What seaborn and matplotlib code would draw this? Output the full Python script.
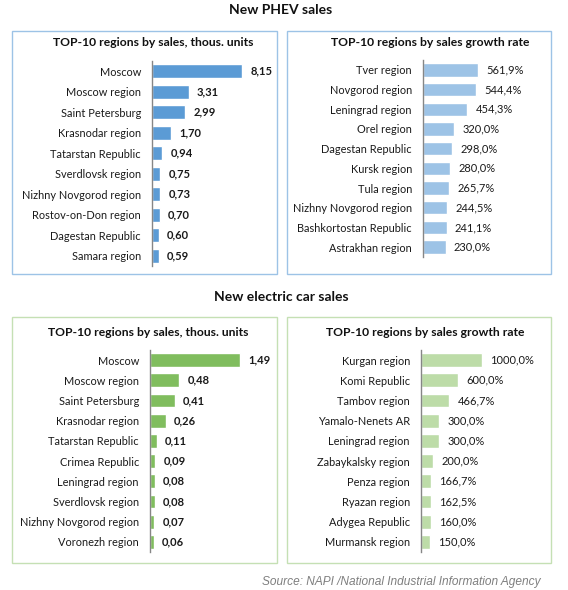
import matplotlib
matplotlib.use("Agg")
import matplotlib.pyplot as plt
import seaborn as sns
import pandas as pd
from matplotlib.patches import Rectangle

sns.set_theme(style="white")
plt.rcParams['font.family'] = ['Lato', 'DejaVu Sans']

# ---------------- data ----------------
phev_sales_regions = ["Moscow", "Moscow region", "Saint Petersburg", "Krasnodar region",
                      "Tatarstan Republic", "Sverdlovsk region", "Nizhny Novgorod region",
                      "Rostov-on-Don region", "Dagestan Republic", "Samara region"]
phev_sales_values = [8.15, 3.31, 2.99, 1.70, 0.94, 0.75, 0.73, 0.70, 0.60, 0.59]

phev_growth_regions = ["Tver region", "Novgorod region", "Leningrad region", "Orel region",
                       "Dagestan Republic", "Kursk region", "Tula region",
                       "Nizhny Novgorod region", "Bashkortostan Republic", "Astrakhan region"]
phev_growth_values = [561.9, 544.4, 454.3, 320.0, 298.0, 280.0, 265.7, 244.5, 241.1, 230.0]

ev_sales_regions = ["Moscow", "Moscow region", "Saint Petersburg", "Krasnodar region",
                    "Tatarstan Republic", "Crimea Republic", "Leningrad region",
                    "Sverdlovsk region", "Nizhny Novgorod region", "Voronezh region"]
ev_sales_values = [1.49, 0.48, 0.41, 0.26, 0.11, 0.09, 0.08, 0.08, 0.07, 0.06]

ev_growth_regions = ["Kurgan region", "Komi Republic", "Tambov region", "Yamalo-Nenets AR",
                     "Leningrad region", "Zabaykalsky region", "Penza region",
                     "Ryazan region", "Adygea Republic", "Murmansk region"]
ev_growth_values = [1000.0, 600.0, 466.7, 300.0, 300.0, 200.0, 166.7, 162.5, 160.0, 150.0]

section_titles = ["New PHEV sales", "New electric car sales"]
panel_title_sales = "TOP-10 regions by sales, thous. units"
panel_title_growth = "TOP-10 regions by sales growth rate"
source_text = "Source: NAPI /National Industrial Information Agency"

# ---------------- layout ----------------
W, H = 568, 590
fig = plt.figure(figsize=(W / 100, H / 100), dpi=100)
fig.patch.set_facecolor("white")


def fx(px):
    return px / W


def fy(py):
    return 1 - py / H


def box(x0, y0, x1, y1, color):
    fig.patches.append(Rectangle((fx(x0), fy(y1)), fx(x1) - fx(x0), fy(y0) - fy(y1),
                                 transform=fig.transFigure, fill=False,
                                 edgecolor=color, linewidth=1.0))


def panel(rect_px, regions, values, color, xmax, fmt, bold):
    x0, y0, x1, y1 = rect_px
    ax = fig.add_axes([fx(x0), fy(y1), fx(x1) - fx(x0), fy(y0) - fy(y1)])
    df = pd.DataFrame({"region": regions, "value": values})
    sns.barplot(data=df, x="value", y="region", orient="h", color=color,
                saturation=1, width=0.68, ax=ax)
    ax.set_xlim(0, xmax)
    ax.set_ylim(len(regions) - 0.5, -0.5)
    ax.set_xlabel("")
    ax.set_ylabel("")
    ax.set_xticks([])
    for s in ["top", "right", "bottom"]:
        ax.spines[s].set_visible(False)
    ax.spines["left"].set_color("#868686")
    ax.spines["left"].set_linewidth(1.0)
    ax.set_facecolor("none")
    ax.tick_params(axis="y", which="major", length=0, pad=8, labelsize=7.9,
                   labelcolor="#1a1a1a")
    ax.set_yticks([i - 0.5 for i in range(len(regions) + 1)], minor=True)
    ax.tick_params(axis="y", which="minor", length=3.5, width=1.0, color="#868686",
                   direction="out")
    labels = [fmt(v) for v in values]
    ax.bar_label(ax.containers[0], labels=labels, padding=6, fontsize=8.0,
                 fontweight="bold" if bold else "normal", color="#1a1a1a")
    return ax


fmt_sales = lambda v: f"{v:.2f}".replace(".", ",")
fmt_growth = lambda v: f"{v:.1f}%".replace(".", ",")

blue_dark = "#5B9BD5"
blue_light = "#9DC3E6"
green_dark = "#80BD5E"
green_light = "#BDDCA8"
border_blue = "#9DC3E6"
border_green = "#C5E0B4"

# boxes
box(12, 31, 277, 274, border_blue)
box(287, 31, 551, 274, border_blue)
box(12, 317, 277, 563, border_green)
box(287, 317, 551, 563, border_green)

# section titles
fig.text(fx(281), fy(10), section_titles[0], ha="center", va="center",
         fontsize=10, fontweight="bold", color="#111111")
fig.text(fx(281), fy(297), section_titles[1], ha="center", va="center",
         fontsize=10, fontweight="bold", color="#111111")

# panel titles
fig.text(fx(153), fy(42), panel_title_sales, ha="center", va="center",
         fontsize=8.7, fontweight="bold", color="#111111")
fig.text(fx(430), fy(42), panel_title_growth, ha="center", va="center",
         fontsize=8.7, fontweight="bold", color="#111111")
fig.text(fx(148), fy(332), panel_title_sales, ha="center", va="center",
         fontsize=8.7, fontweight="bold", color="#111111")
fig.text(fx(425), fy(332), panel_title_growth, ha="center", va="center",
         fontsize=8.7, fontweight="bold", color="#111111")

# panels
panel((152, 61, 262, 266), phev_sales_regions, phev_sales_values, blue_dark,
      8.15 * 110 / 90, fmt_sales, True)
panel((423, 60, 533, 257), phev_growth_regions, phev_growth_values, blue_light,
      561.9 * 110 / 55, fmt_growth, False)
panel((150, 350, 260, 552), ev_sales_regions, ev_sales_values, green_dark,
      1.49 * 110 / 90, fmt_sales, True)
panel((421, 350, 531, 552), ev_growth_regions, ev_growth_values, green_light,
      1000 * 110 / 61, fmt_growth, False)

# source
fig.text(fx(541), fy(582), source_text, ha="right", va="center", fontsize=8.6,
         style="italic", color="#7F7F7F", family=["Liberation Sans", "DejaVu Sans"])

fig.savefig("out.png", dpi=100)
